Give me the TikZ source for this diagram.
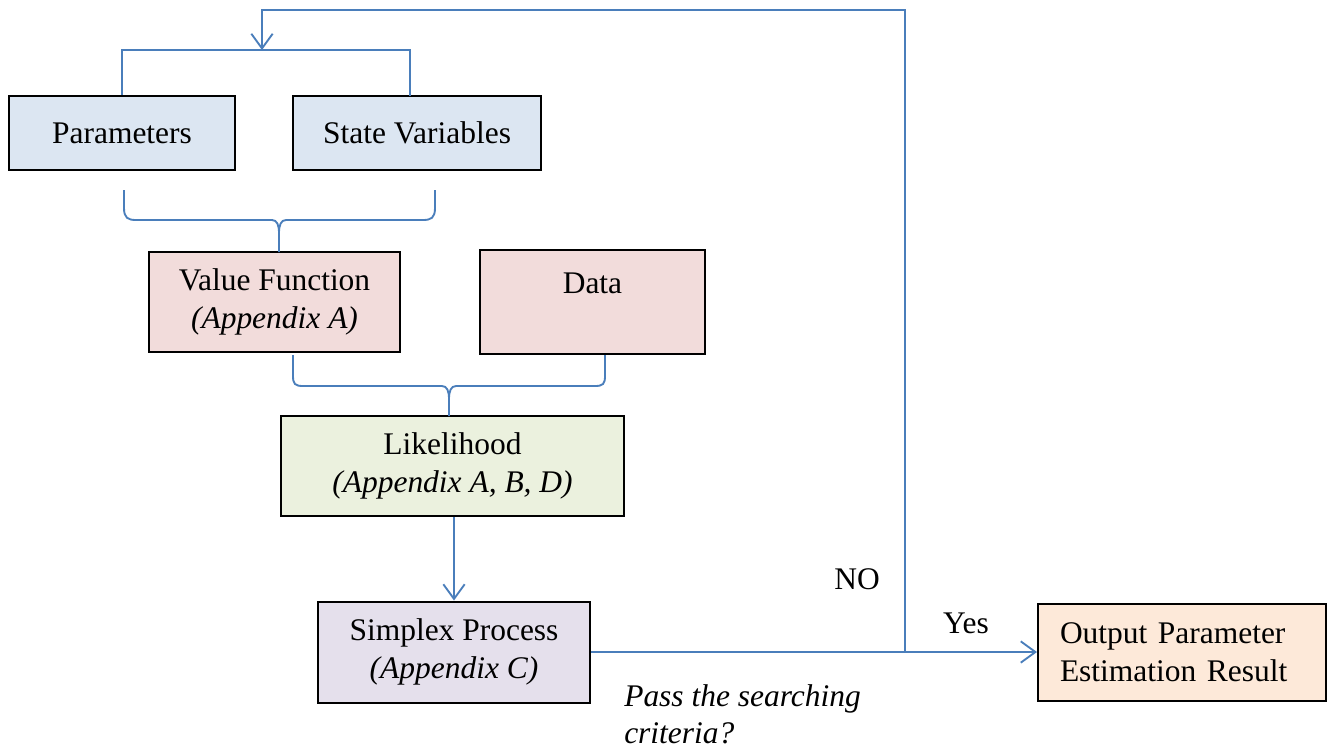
\documentclass[tikz,border=0pt]{standalone}
\usepackage{fontspec}
\setmainfont{Liberation Serif}
\usetikzlibrary{arrows.meta}
\newlength\pxu
\setlength\pxu{0.75pt}
\definecolor{flowblue}{HTML}{4A7EBB}
\definecolor{inputfill}{HTML}{DCE6F2}
\definecolor{modelfill}{HTML}{F2DCDB}
\definecolor{likfill}{HTML}{EBF1DE}
\definecolor{simplexfill}{HTML}{E5E0EC}
\definecolor{outputfill}{HTML}{FDE9D9}
\tikzset{
  box_node/.style = {draw=black, line width=1.5pt, align=center, inner sep=0pt,
    font=\fontsize{23.6}{28.5}\selectfont},
  input_node/.style = {box_node, fill=inputfill},% entrees
  model_node/.style = {box_node, fill=modelfill},% modele et donnees
  lik_node/.style = {box_node, fill=likfill},
  simplex_node/.style = {box_node, fill=simplexfill},
  output_node/.style = {box_node, fill=outputfill},
  label_node/.style = {inner sep=0pt, font=\fontsize{23.6}{29}\selectfont},
  flow_line/.style = {draw=flowblue, line width=1.4pt},
  flow_arrow/.style = {flow_line, -{Straight Barb[length=11pt, width=16pt, line width=1.4pt]}}
}

\begin{document}
\begin{tikzpicture}[x=0.75pt, y=-0.75pt]
  \useasboundingbox (0,0) rectangle (1327,751);
  % boxes
  \node [input_node, minimum width=226\pxu, minimum height=74\pxu] (params) at (122,133) {Parameters};
  \node [input_node, minimum width=248\pxu, minimum height=74\pxu] (state) at (417,133) {State Variables};
  \node [model_node, minimum width=251\pxu, minimum height=100\pxu] (value) at (274.5,302) {Value Function\\\textit{(Appendix A)}};
  \node [model_node, minimum width=225\pxu, minimum height=104\pxu] (data) at (592.5,302) {Data\\\mbox{}};
  \node [lik_node, minimum width=343\pxu, minimum height=100\pxu] (lik) at (452.5,466) {Likelihood\\\textit{(Appendix A, B, D)}};
  \node [simplex_node, minimum width=272\pxu, minimum height=101\pxu] (simplex) at (454,652) {Simplex Process\\\textit{(Appendix C)}};
  \node [output_node, align=left, text width=244\pxu, minimum width=288\pxu, minimum height=97\pxu] (output) at (1182,652) {Output Parameter\\Estimation Result};
  % labels
  \node [label_node] (no_label) at (857,579) {NO};
  \node [label_node] (yes_label) at (966,623) {Yes};
  \node [label_node, anchor=west, align=left, font=\fontsize{23.6}{28}\selectfont\itshape] (question) at (624,714) {Pass the searching\\criteria?};
  % free ends
  \coordinate (merge) at (262,50);
  \coordinate (state_in) at (410,96);
  \coordinate (split) at (905,652);
  \coordinate (loop_top) at (905,10);
  \coordinate (b1_left) at (124,190);
  \coordinate (b1_right) at (435,190);
  \coordinate (b2_left) at (293,355);
  \coordinate (b2_right) at (605,355);
  % inputs merge
  \draw [flow_line] (params.north) |- (merge);
  \draw [flow_line] (state_in) |- (merge);
  % brace under the inputs
  \draw [flow_line] (b1_left) -- ++(0,18) .. controls +(0,10) and +(-8,0) .. ++(12,12) -- ++(136,0)
    .. controls +(5,0) and +(0,-8) .. ++(7,13) -- ++(0,19);
  \draw [flow_line] (b1_right) -- ++(0,18) .. controls +(0,10) and +(8,0) .. ++(-12,12) -- ++(-137,0)
    .. controls +(-5,0) and +(0,-8) .. ++(-7,13);
  % brace under value function and data
  \draw [flow_line] (b2_left) -- ++(0,21) .. controls +(0,8) and +(-8,0) .. ++(10,10) -- ++(139,0)
    .. controls +(5,0) and +(0,-8) .. ++(7,13) -- ++(0,17);
  \draw [flow_line] (b2_right) -- ++(0,21) .. controls +(0,8) and +(8,0) .. ++(-10,10) -- ++(-139,0)
    .. controls +(-5,0) and +(0,-8) .. ++(-7,13);
  % search loop
  \draw [flow_arrow] (lik.south -| simplex.north) -- (simplex.north);
  \draw [flow_line] (simplex.east) -- (split);
  \draw [flow_arrow] (split) -- (output.west);
  \draw [flow_arrow] (split) -- (loop_top) -| (merge);
\end{tikzpicture}
\end{document}
